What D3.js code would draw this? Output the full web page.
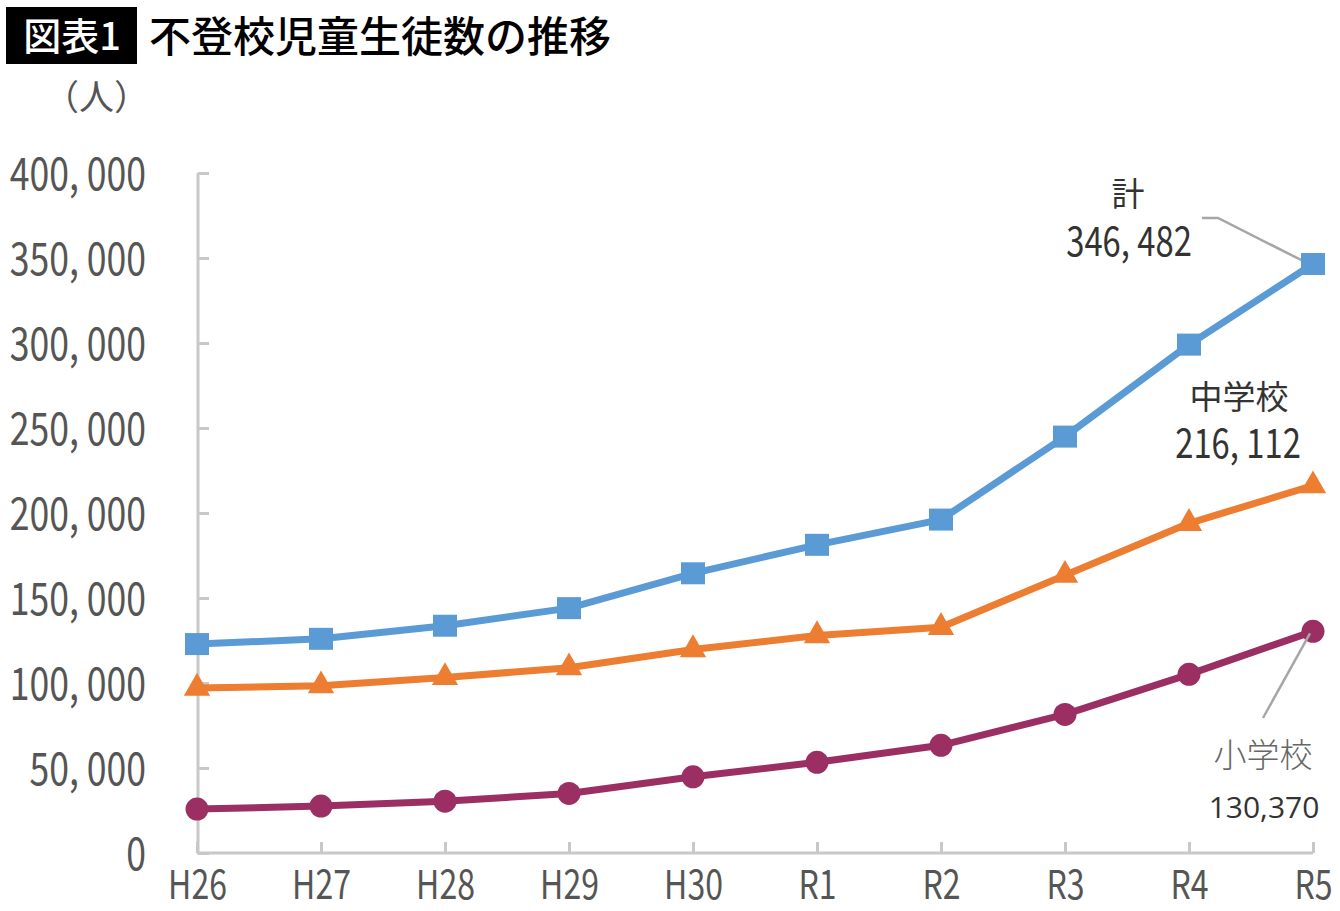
<!DOCTYPE html>
<html><head><meta charset="utf-8">
<script src="https://cdn.jsdelivr.net/npm/d3@7"></script>
<style>
html,body{margin:0;padding:0;background:#fff;}
svg{display:block;}
</style></head>
<body>
<svg id="c" width="1340" height="911"></svg>
<script>
const categories = ["H26","H27","H28","H29","H30","R1","R2","R3","R4","R5"];
const total      = [122897,125991,133683,144031,164528,181272,196127,244940,299048,346482];
const juniorHigh = [97033,98408,103235,108999,119687,127922,132777,163442,193936,216112];
const elementary = [25864,27583,30448,35032,44841,53350,63350,81498,105112,130370];
const yTicks = [0,50000,100000,150000,200000,250000,300000,350000,400000];

const svg = d3.select("#c");
const JP = "'Noto Sans CJK JP','Noto Sans',sans-serif";

const x = d3.scalePoint().domain(categories).range([197,1313]);
const y = d3.scaleLinear().domain([0,400000]).range([853,173]);

// title
svg.append("rect").attr("x",6).attr("y",7).attr("width",131).attr("height",57).attr("fill","#000");
svg.append("text").attr("x",72).attr("y",50).attr("text-anchor","middle")
  .attr("font-family",JP).attr("font-weight",500).attr("font-size",38).attr("fill","#fff").text("図表1");
svg.append("text").attr("x",149).attr("y",52)
  .attr("font-family",JP).attr("font-weight",500).attr("font-size",42).attr("fill","#000").text("不登校児童生徒数の推移");
svg.append("text").attr("x",44).attr("y",110)
  .attr("font-family",JP).attr("font-size",35).attr("fill","#555").text("（人）");

const gridC = "#c8c8c8";
// y axis
const yAxis = d3.axisLeft(y).tickValues(yTicks).tickSize(-11).tickPadding(0)
  .tickFormat(d => d3.format(",")(d).replace(/,/g, ", "));
const gy = svg.append("g").attr("transform","translate(198,0)").call(yAxis);
gy.select(".domain").attr("stroke",gridC).attr("stroke-width",3).attr("d","M0,853V173");
gy.selectAll(".tick line").attr("stroke",gridC).attr("stroke-width",3);
gy.selectAll(".tick text")
  .attr("x",0).attr("dy","0.36em")
  .attr("transform",`translate(-52,0) scale(0.79,1)`)
  .attr("text-anchor","end")
  .attr("font-family",JP).attr("font-size",45).attr("fill","#555");

// x axis
const xAxis = d3.axisBottom(x).tickSize(-11).tickPadding(0);
const gx = svg.append("g").attr("transform","translate(0,853)").call(xAxis);
gx.select(".domain").attr("stroke",gridC).attr("stroke-width",3).attr("d","M197,0H1313");
gx.selectAll(".tick line").attr("stroke",gridC).attr("stroke-width",3);
gx.selectAll(".tick text")
  .attr("y",0).attr("dy","0")
  .attr("transform",`translate(0,46) scale(0.8,1)`)
  .attr("text-anchor","middle")
  .attr("font-family",JP).attr("font-size",40).attr("fill","#555");

// series
const series = [
  {name:"total", vals: total, color:"#5B9BD5", marker:"square"},
  {name:"jh", vals: juniorHigh, color:"#ED7D31", marker:"triangle"},
  {name:"el", vals: elementary, color:"#9B2F64", marker:"circle"}
];
const line = d3.line().x((d,i)=>x(categories[i])).y(d=>y(d));

// leader lines (behind markers)
const leadC = "#a6a6a6";
svg.append("path").attr("d",`M1202,218H1218L${x("R5")-4},${y(total[9])}`)
  .attr("fill","none").attr("stroke",leadC).attr("stroke-width",2.5);

series.forEach(s=>{
  svg.append("path").datum(s.vals).attr("d",line).attr("fill","none")
    .attr("stroke",s.color).attr("stroke-width",7).attr("stroke-linejoin","round");
  const g = svg.append("g");
  s.vals.forEach((v,i)=>{
    const cx = x(categories[i]), cy = y(v);
    if (s.marker==="square") {
      g.append("rect").attr("x",cx-12).attr("y",cy-11).attr("width",24).attr("height",22).attr("fill",s.color);
    } else if (s.marker==="triangle") {
      g.append("path").attr("d",d3.symbol(d3.symbolTriangle,300)()).attr("transform",`translate(${cx},${cy})`).attr("fill",s.color);
    } else {
      g.append("circle").attr("cx",cx).attr("cy",cy).attr("r",11.5).attr("fill",s.color);
    }
  });
});

svg.append("path").attr("d",`M1263,718L${x("R5")-3},${y(elementary[9])+2}`)
  .attr("fill","none").attr("stroke",leadC).attr("stroke-width",2.5);

// annotations
function annText(cx, cy, str, size, color, sx) {
  svg.append("text").attr("transform",`translate(${cx},${cy}) scale(${sx},1)`)
    .attr("text-anchor","middle").attr("font-family",JP).attr("font-size",size).attr("fill",color).text(str);
}
annText(1128, 206, "計", 33, "#333", 1);
annText(1129, 256, "346, 482", 40, "#333", 0.82);
annText(1239, 409, "中学校", 33, "#333", 1);
annText(1238, 458, "216, 112", 40, "#333", 0.82);

svg.append("text").attr("x",1263).attr("y",767).attr("text-anchor","middle")
  .attr("font-family",JP).attr("font-weight",300).attr("font-size",33).attr("fill","#666").text("小学校");
svg.append("text").attr("x",1264).attr("y",818).attr("text-anchor","middle")
  .attr("font-family","'Open Sans',sans-serif").attr("font-size",30).attr("fill","#333").text("130,370");
</script>
</body></html>
